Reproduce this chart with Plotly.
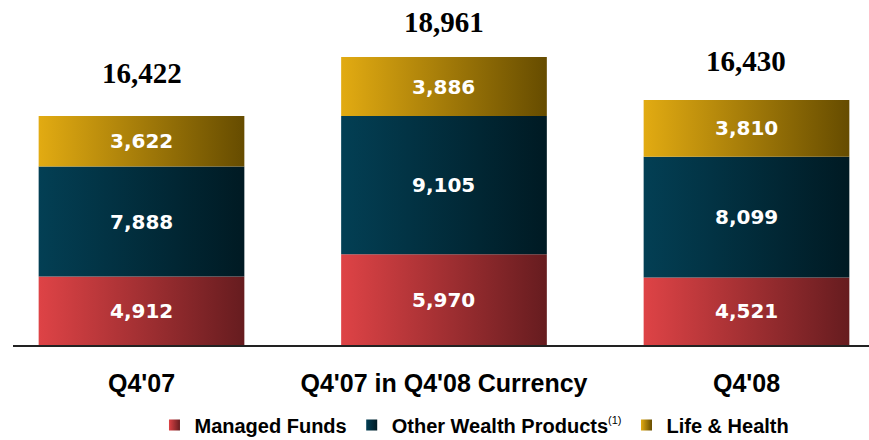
import plotly.graph_objects as go

# ---- data ----
categories = ["Q4'07", "Q4'07 in Q4'08 Currency", "Q4'08"]
series_names = ["Managed Funds", "Other Wealth Products", "Life & Health"]
managed_funds = [4912, 5970, 4521]
other_wealth = [7888, 9105, 8099]
life_health = [3622, 3886, 3810]
totals = [16422, 18961, 16430]

# ---- styles ----
gradients = {
    "Managed Funds": ("#DE4346", "#661C1F"),
    "Other Wealth Products": ("#033F54", "#001A23"),
    "Life & Health": ("#E2AB12", "#664C00"),
}
legend_labels = {
    "Managed Funds": "Managed Funds",
    "Other Wealth Products": "Other Wealth Products<sup><span style='font-size:11px;font-weight:normal'>(1)</span></sup>",
    "Life & Health": "Life & Health",
}
axis_max = [24740, 22714, 23137]   # each bar drawn on its own value scale (as in the slide)
total_shift = [43, 35, 39]
bar_width = 0.68
yrefs = ["y", "y2", "y3"]
yaxis_ids = ["yaxis", "yaxis2", "yaxis3"]

series_values = [managed_funds, other_wealth, life_health]

fig = go.Figure()

for i, cat in enumerate(categories):
    base = 0
    for name, vals in zip(series_names, series_values):
        v = vals[i]
        c0, c1 = gradients[name]
        x0, x1 = i - bar_width / 2, i + bar_width / 2
        fig.add_trace(go.Scatter(
            x=[x0, x1, x1, x0, x0],
            y=[base, base, base + v, base + v, base],
            fill="toself",
            mode="lines",
            line=dict(width=0),
            fillgradient=dict(type="horizontal", colorscale=[[0, c0], [1, c1]]),
            yaxis=yrefs[i],
            showlegend=False,
            hoverinfo="skip",
        ))
        fig.add_annotation(
            x=i, y=base + v / 2, xref="x", yref=yrefs[i],
            text=f"{v:,}", showarrow=False,
            font=dict(family="DejaVu Sans", size=20, color="white", weight="bold"),
        )
        base += v
    fig.add_annotation(
        x=i, y=totals[i], xref="x", yref=yrefs[i],
        text=f"{totals[i]:,}", showarrow=False, yanchor="middle",
        yshift=total_shift[i],
        font=dict(family="Liberation Serif", size=29, color="black", weight="bold"),
    )

# legend entries
for name in series_names:
    c0, c1 = gradients[name]
    fig.add_trace(go.Scatter(
        x=[None], y=[None], mode="markers", name=legend_labels[name],
        marker=dict(symbol="square", size=11, color=c0,
                    gradient=dict(type="horizontal", color=c1)),
        hoverinfo="skip",
    ))

layout_axes = {}
for k, (yid, ymax) in enumerate(zip(yaxis_ids, axis_max)):
    ax = dict(range=[0, ymax], visible=False, fixedrange=True)
    if k > 0:
        ax["overlaying"] = "y"
    layout_axes[yid] = ax

fig.update_layout(
    width=869, height=440,
    margin=dict(l=0, r=0, t=0, b=95, autoexpand=False),
    paper_bgcolor="white", plot_bgcolor="white",
    xaxis=dict(
        domain=[13 / 869, 1],
        range=[-0.4248, 2.405],
        tickvals=list(range(len(categories))),
        ticktext=categories,
        showgrid=False, zeroline=False, automargin=False, fixedrange=True,
        showline=True, linecolor="#222222", linewidth=1.5,
        ticks="outside", ticklen=15, tickcolor="rgba(0,0,0,0)",
        tickfont=dict(family="Liberation Sans", size=25, color="black", weight="bold"),
    ),
    showlegend=True,
    legend=dict(
        orientation="h", x=0.546, xanchor="center", y=-0.232, yanchor="middle",
        font=dict(family="Liberation Sans", size=20, color="black", weight="bold"),
        bgcolor="rgba(0,0,0,0)", itemwidth=30,
    ),
    **layout_axes,
)

fig.write_html("out.html", config={"displayModeBar": False},
               post_script="document.body.style.margin='0';")
